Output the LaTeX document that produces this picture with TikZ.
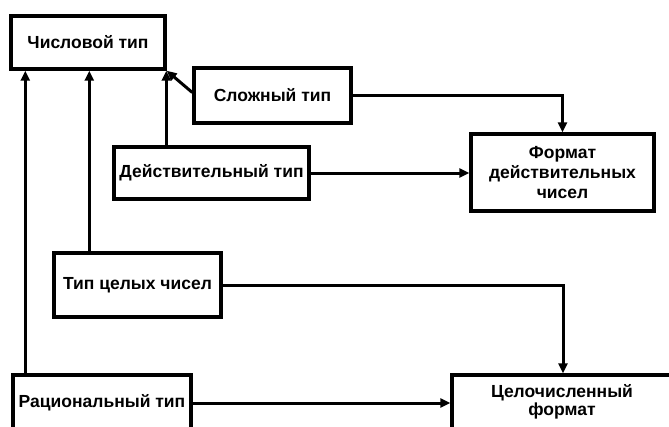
\documentclass[tikz,border=0pt]{standalone}
\usepackage{fontspec}
\setmainfont{Liberation Sans}
\usetikzlibrary{arrows.meta,calc}
\begin{document}
\begin{tikzpicture}[x=1pt,y=-1pt,
  box/.style={draw, line width=3.4pt, inner sep=0pt, align=center,
    font=\bfseries\fontsize{17.5}{20}\selectfont},
  conn/.style={line width=3pt},
  arr/.style={conn,-{Triangle[length=10pt,width=9pt]}}]
\useasboundingbox[clip] (0,0) rectangle (669,426);
\fill[white] (0,0) rectangle (669,426);
\node[box, minimum width=154pt, minimum height=53pt] (chisl) at (88,42.5) {Числовой тип};
\node[box, minimum width=157pt, minimum height=55pt] (slozh) at (272.5,95.5) {Сложный тип};
\node[box, minimum width=195pt, minimum height=52pt] (deist) at (211.5,173) {Действительный тип};
\node[box, minimum width=183pt, minimum height=77pt] (fmt) at (562.5,172.5) {Формат\\действительных\\чисел};
\node[box, minimum width=167pt, minimum height=64pt] (cel) at (137.5,285) {Тип целых чисел};
\node[box, minimum width=178pt, minimum height=56pt] (rac) at (102,403) {Рациональный тип};
\node[box, minimum width=220pt, minimum height=54pt, font=\bfseries\fontsize{17.5}{18.5}\selectfont] (celfmt) at (562,402) {Целочисленный\\формат};
% vertical arrows to Числовой тип
\draw[arr] ([xshift=14pt]rac.north west) -- ([xshift=14pt]rac.north west |- chisl.south);
\draw[arr] ([xshift=37pt]cel.north west) -- ([xshift=37pt]cel.north west |- chisl.south);
\draw[arr] ([xshift=54pt]deist.north west) -- ([xshift=54pt]deist.north west |- chisl.south);
\draw[arr] ([yshift=3pt]slozh.west) -- (chisl.south east);
% to formats
\draw[arr] (slozh.east) -| (fmt.north);
\draw[arr] (deist.east) -- (deist.east -| fmt.west);
\draw[arr] (cel.east) -| ([xshift=1pt]celfmt.north);
\draw[arr] (rac.east) -- (rac.east -| celfmt.west);
\end{tikzpicture}
\end{document}
